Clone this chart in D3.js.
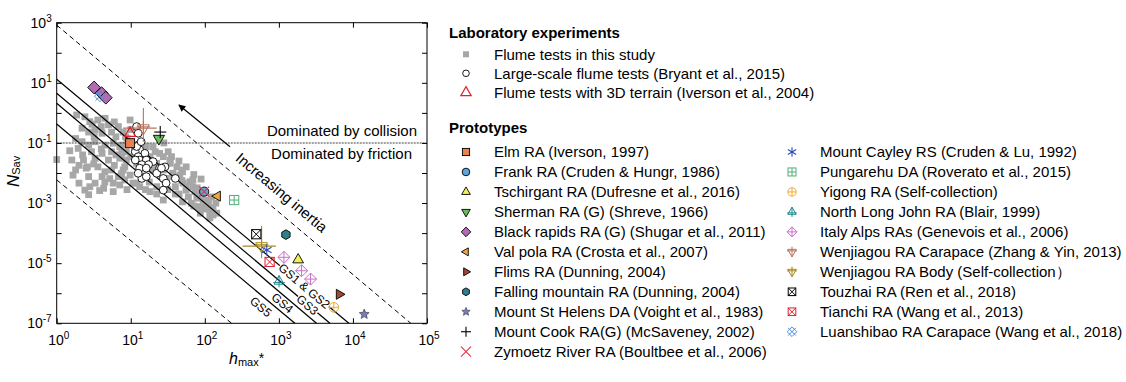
<!DOCTYPE html>
<html><head><meta charset="utf-8">
<script src="https://cdn.jsdelivr.net/npm/d3@7/dist/d3.min.js"></script>
<style>
body{margin:0;background:#fff}
svg{display:block;font-family:"Liberation Sans",Arial,Helvetica,sans-serif}
</style>
</head><body>
<svg id="c" width="1126" height="382"></svg>
<script>
// ---------------- DATA ----------------
// Flume tests in this study: [h_max*, N_Sav]
const flumeThisStudy = [
 [1.0,0.028],[1.86,0.85],[2.4,0.74],[2.8,0.51],[3.6,0.58],[4.5,0.66],[5.0,0.40],[2.2,0.31],[2.7,0.23],[3.3,0.27],
 [4.1,0.21],[5.5,0.23],[6.8,0.35],[7.9,0.23],[1.8,0.14],[2.2,0.11],[2.7,0.085],[3.3,0.11],[4.5,0.085],[5.8,0.098],
 [7.6,0.085],[1.95,0.066],[2.95,0.051],[4.1,0.045],[5.5,0.051],[8.7,0.051],[1.6,0.027],[2.3,0.027],[3.3,0.031],[5.0,0.027],
 [7.1,0.031],[1.8,0.0126],[2.5,0.0145],[3.6,0.016],[5.5,0.0126],[8.3,0.016],[1.66,0.0085],[2.7,0.0076],[4.1,0.0076],[6.8,0.0076],
 [2.0,0.0046],[3.3,0.0046],[5.8,0.0046],[8.3,0.0059],[2.4,0.0027],[4.3,0.0031],[2.7,0.0019],[5.8,0.0024],[8.7,0.027],[7.9,0.0126],
 [9.8,0.0085],[10.7,0.0046],[13.2,0.0035],[20,0.074],[24.5,0.045],[32,0.051],[18.2,0.035],[22.4,0.021],[34,0.027],[42,0.016],
 [46,0.0085],[37,0.0076],[51,0.0046],[63,0.0051],[56,0.0027],[74,0.0024],[78,0.00145],[95,0.00126],[105,0.00076],[117,0.00051],
 [129,0.00068],[85,0.00076],[66,0.00098],[27.5,0.00126],[18.2,0.0024],[30,0.0066],[27.5,0.0126],[16.2,0.016],[12,0.021],[7.1,0.074],
 [7.6,0.045],[87,0.00046],[69,0.0035],[49,0.0056],[37,0.0098],[34,0.021],[27.5,0.035],[21.4,0.051],[16.2,0.076],[9.8,0.58],
 [10,0.1],[11.2,0.063],[14.1,0.04],[10,0.035],[14.8,0.0079],[17.8,0.005],[22.4,0.0035],[40,0.0035],[45,0.002],[60,0.0016],
 [50,0.011],[89,0.002],[112,0.001],[79,0.0032],[4.0,0.35],[6.3,0.16],[3.2,0.16],[28,0.1],[49,0.0126],[56,0.0035],
 [69,0.0059],[105,0.00126],[117,0.00068],[145,0.00046],[117,0.00032],[129,0.0004],[12,0.0046],
 [8.9,0.14],[10,0.28],[4.0,0.063],[6.3,0.04],[2.24,0.04],[3.16,0.02],[4.47,0.011],[2.0,0.018],[2.8,0.0035],[4.47,0.005],
 [7.1,0.004],[8.9,0.0028],[20,0.0126],[35.5,0.035],[44.7,0.025],[56,0.016],[71,0.0089],[89,0.0063],[123,0.0016],[141,0.001],
 [100,0.00063],[71,0.0008],[50,0.0011],[40,0.002],[31.6,0.0028],[22.4,0.002],[15.8,0.0028],[8.5,0.16],[6.0,0.5],[3.0,0.42],
 [1.5,0.055],[2.6,0.016],[6.0,0.018],[7.5,0.0095],[5.2,0.0065],[3.8,0.0026]
];
// Large-scale flume tests (Bryant et al., 2015)
const bryant2015 = [
 [12,0.35],[12.6,0.21],[12.6,0.085],[13.2,0.059],[11.5,0.051],[15.5,0.045],[12.6,0.035],[13.2,0.027],[16.2,0.027],[20,0.024],
 [14.1,0.019],[17.4,0.019],[13.2,0.0145],[16.2,0.0145],[24.5,0.0145],[29,0.016],[14.1,0.0066],[16.2,0.0076],[22.4,0.0098],[27.5,0.0066],
 [30,0.0046],[40,0.0066],[27.5,0.0027],[12.6,0.0098],[11.5,0.027],[12,0.076],[13.8,0.11],[26,0.0145]
];
// Flume tests with 3D terrain (Iverson et al., 2004)
const iverson2004 = [[9.8,0.21]];

// Prototypes
const protoLabels = [
 "Elm RA (Iverson, 1997)",
 "Frank RA (Cruden & Hungr, 1986)",
 "Tschirgant RA (Dufresne et al., 2016)",
 "Sherman RA (G) (Shreve, 1966)",
 "Black rapids RA (G) (Shugar et al., 2011)",
 "Val pola RA (Crosta et al., 2007)",
 "Flims RA (Dunning, 2004)",
 "Falling mountain RA (Dunning, 2004)",
 "Mount St Helens DA (Voight et al., 1983)",
 "Mount Cook RA(G) (McSaveney, 2002)",
 "Zymoetz River RA (Boultbee et al., 2006)",
 "Mount Cayley RS (Cruden & Lu, 1992)",
 "Pungarehu DA (Roverato et al., 2015)",
 "Yigong RA (Self-collection)",
 "North Long John RA (Blair, 1999)",
 "Italy Alps RAs (Genevois et al., 2006)",
 "Wenjiagou RA Carapace (Zhang & Yin, 2013)",
 "Wenjiagou RA Body (Self-collection\uFF09",
 "Touzhai RA (Ren et al., 2018)",
 "Tianchi RA (Wang et al., 2013)",
 "Luanshibao RA Carapace (Wang et al., 2018)"
];
const protoValues = [
 [[9.8,0.098]],
 [[98,0.0024]],
 [[1820,1.3e-5]],
 [[24,0.14]],
 [[3.2,7.0],[4.05,4.5],[4.6,3.2]],
 [[148,0.0017]],
 [[6530,9.2e-7]],
 [[1245,8.9e-5]],
 [[14200,2.0e-7]],
 [[25,0.23]],
 [[98,0.0024]],
 [[686,2.75e-5]],
 [[249,1.26e-3]],
 [[5520,3.4e-7]],
 [[1005,2.5e-6]],
 [[1170,1.57e-5],[2025,5.6e-6],[2680,2.96e-6]],
 [[14.8,0.31]],
 [[584,3.7e-5]],
 [[495,9.2e-5]],
 [[750,1.1e-5]],
 [[3.84,3.6]]
];
// error ranges (Wenjiagou carapace & body): [hLow,hHigh,NLow,NHigh]
const wenjiagouCarapaceRange = [7.9,22.4,0.11,1.45];
const wenjiagouBodyRange = [324,910,1.45e-5,1.73e-4];

// guide lines [[h1,N1],[h2,N2]]
const dashedLines = [[[1,832],[60500,1e-7]],[[1,5.9e-3],[230,1e-7]]];
const gsLines = [[[1,13.1],[8810,1e-7]],[[1,4.48],[4890,1e-7]],[[1,2.08],[3220,1e-7]],[[1,0.427],[1644,1e-7]]];
const gsLabels = ["GS1 & GS2","GS3","GS4","GS5"];
const gsLabelPos = [[2198,1.74e-6],[2425,4.1e-7],[1115,4.7e-7],[571,3.55e-7]];
const regimeBoundary = 0.1;
const inertiaArrow = [[219,0.075],[44.7,1.82]];
const inertiaLabelPos = [1087,2.24e-3];

// axis ticks
const xTickExps = [0,1,2,3,4,5];
const yTickExps = [3,2,1,0,-1,-2,-3,-4,-5,-6,-7];
const yLabelExps = [3,1,-1,-3,-5,-7];

// ---------------- STYLES ----------------
const protoStyles = [
 {t:'sq',c:'#E98050'},{t:'circ',c:'#5DA6DE'},{t:'triU',c:'#F2F04F'},{t:'triD',c:'#6CBA5C'},
 {t:'dia',c:'#B36BB4'},{t:'triL',c:'#F2A643'},{t:'triR',c:'#A24535'},{t:'hex',c:'#2F7F8C'},
 {t:'star',c:'#7A7CC0'},{t:'plus',c:'#000000'},{t:'x',c:'#E8323C'},
 {t:'ast',c:'#2B4DB8'},{t:'sqPlus',c:'#4FAE78'},{t:'circPlus',c:'#EFA92A'},{t:'triUPlus',c:'#1F8790'},
 {t:'diaPlus',c:'#C86DC8'},{t:'triDPlus',c:'#B9735D'},{t:'triDPlus',c:'#A48A1E'},{t:'sqX',c:'#000000'},
 {t:'sqX',c:'#E0202E'},{t:'diaX',c:'#4C8FE0'}
];
const plotSize = [4.5,4.6,6.2,6.5,6.4,5.8,5.8,4.8,5.2,6,5,5.5,4.6,4.8,5.8,6,6.8,6.8,4.6,4.6,5.5];
const FS = 15;

// ---------------- DRAW ----------------
const svg = d3.select('#c');
const L=56.7,R=427,T=22.7,B=323.3;
const x = d3.scaleLog().domain([1,1e5]).range([L,R]);
const y = d3.scaleLog().domain([1e-7,1e3]).range([B,T]);

function poly(pts){return 'M'+pts.map(p=>p[0].toFixed(2)+','+p[1].toFixed(2)).join('L')+'Z';}
function tri(Rr,rot){return [ -90,30,150 ].map(a=>{const r=(a+rot)*Math.PI/180;return [Rr*Math.cos(r),Rr*Math.sin(r)];});}
function dia(r){return [[0,-r],[r,0],[0,r],[-r,0]];}
function hex(r){return d3.range(6).map(k=>{const a=(-90+60*k)*Math.PI/180;return [r*Math.cos(a),r*Math.sin(a)];});}
function line(g,x1,y1,x2,y2,c,w){g.append('line').attr('x1',x1).attr('y1',y1).attr('x2',x2).attr('y2',y2).attr('stroke',c).attr('stroke-width',w||1);}
function starPath(r){const p=[];for(let k=0;k<10;k++){const a=(-90+36*k)*Math.PI/180, rr=k%2?r*0.45:r;p.push([rr*Math.cos(a),rr*Math.sin(a)]);}return poly(p);}

function marker(g,t,r,c){
  const sw=0.9;
  switch(t){
    case 'gray': g.append('rect').attr('x',-r).attr('y',-r).attr('width',2*r).attr('height',2*r).attr('fill',c);break;
    case 'sq': g.append('rect').attr('x',-r).attr('y',-r).attr('width',2*r).attr('height',2*r).attr('fill',c).attr('stroke','#000').attr('stroke-width',sw);break;
    case 'circ': g.append('circle').attr('r',r).attr('fill',c).attr('stroke','#000').attr('stroke-width',sw);break;
    case 'circOpen': g.append('circle').attr('r',r).attr('fill','#fff').attr('stroke','#000').attr('stroke-width',sw);break;
    case 'triU': g.append('path').attr('d',poly(tri(r,0))).attr('fill',c).attr('stroke','#000').attr('stroke-width',sw);break;
    case 'triD': g.append('path').attr('d',poly(tri(r,180))).attr('fill',c).attr('stroke','#000').attr('stroke-width',sw);break;
    case 'triL': g.append('path').attr('d',poly(tri(r,-90))).attr('fill',c).attr('stroke','#000').attr('stroke-width',sw);break;
    case 'triR': g.append('path').attr('d',poly(tri(r,90))).attr('fill',c).attr('stroke','#000').attr('stroke-width',sw);break;
    case 'triUOpen': g.append('path').attr('d',poly(tri(r,0))).attr('fill','none').attr('stroke',c).attr('stroke-width',1.2);break;
    case 'dia': g.append('path').attr('d',poly(dia(r))).attr('fill',c).attr('stroke','#000').attr('stroke-width',sw);break;
    case 'hex': g.append('path').attr('d',poly(hex(r))).attr('fill',c).attr('stroke','#000').attr('stroke-width',sw);break;
    case 'star': g.append('path').attr('d',starPath(r)).attr('fill',c).attr('stroke','#333').attr('stroke-width',0.6);break;
    case 'plus': line(g,-r,0,r,0,c,1.1);line(g,0,-r,0,r,c,1.1);break;
    case 'x': line(g,-r,-r,r,r,c,1.1);line(g,-r,r,r,-r,c,1.1);break;
    case 'ast': for(const a of [90,30,150]){const q=a*Math.PI/180;line(g,-r*Math.cos(q),-r*Math.sin(q),r*Math.cos(q),r*Math.sin(q),c,1.1);} break;
    case 'sqPlus': g.append('rect').attr('x',-r).attr('y',-r).attr('width',2*r).attr('height',2*r).attr('fill','none').attr('stroke',c).attr('stroke-width',1);line(g,-r,0,r,0,c,1);line(g,0,-r,0,r,c,1);break;
    case 'circPlus': g.append('circle').attr('r',r).attr('fill','none').attr('stroke',c).attr('stroke-width',1);line(g,-r,0,r,0,c,1);line(g,0,-r,0,r,c,1);break;
    case 'triUPlus': g.append('path').attr('d',poly(tri(r,0))).attr('fill','none').attr('stroke',c).attr('stroke-width',1);line(g,0,-r,0,r*1.05,c,1);line(g,-r,r*0.2,r,r*0.2,c,1);break;
    case 'triDPlus': g.append('path').attr('d',poly(tri(r,180))).attr('fill','none').attr('stroke',c).attr('stroke-width',1);line(g,0,-r*1.05,0,r,c,1);line(g,-r,-r*0.2,r,-r*0.2,c,1);break;
    case 'diaPlus': g.append('path').attr('d',poly(dia(r))).attr('fill','none').attr('stroke',c).attr('stroke-width',1);line(g,-r,0,r,0,c,1);line(g,0,-r,0,r,c,1);break;
    case 'sqX': g.append('rect').attr('x',-r).attr('y',-r).attr('width',2*r).attr('height',2*r).attr('fill','none').attr('stroke',c).attr('stroke-width',1);line(g,-r,-r,r,r,c,1);line(g,-r,r,r,-r,c,1);break;
    case 'diaX': g.append('path').attr('d',poly(dia(r))).attr('fill','none').attr('stroke',c).attr('stroke-width',1);line(g,-r*0.8,-r*0.8,r*0.8,r*0.8,c,1);line(g,-r*0.8,r*0.8,r*0.8,-r*0.8,c,1);break;
  }
}

const plot = svg.append('g');
// gray squares
plot.append('g').selectAll('rect').data(flumeThisStudy).join('rect')
  .attr('x',d=>x(d[0])-3.4).attr('y',d=>y(d[1])-3.4).attr('width',6.8).attr('height',6.8).attr('fill','#A7A7A7');

// guide lines
const lineGen = d3.line().x(d=>x(d[0])).y(d=>y(d[1]));
plot.append('g').selectAll('path').data(dashedLines).join('path').attr('d',lineGen)
  .attr('fill','none').attr('stroke','#000').attr('stroke-width',1).attr('stroke-dasharray','5,3.5');
plot.append('g').selectAll('path').data(gsLines).join('path').attr('d',lineGen)
  .attr('fill','none').attr('stroke','#000').attr('stroke-width',1.2);
// regime boundary
plot.append('line').attr('x1',x(1)).attr('x2',x(1e5)).attr('y1',y(regimeBoundary)).attr('y2',y(regimeBoundary))
  .attr('stroke','#444').attr('stroke-width',1.1).attr('stroke-dasharray','2,1');

// slope angle in pixels
const dl = dashedLines[0];
const ang = Math.atan2(y(dl[1][1])-y(dl[0][1]), x(dl[1][0])-x(dl[0][0]))*180/Math.PI;

// arrow
const defs = svg.append('defs');
defs.append('marker').attr('id','ah').attr('viewBox','0 0 10 10').attr('refX',9).attr('refY',5)
  .attr('markerWidth',9).attr('markerHeight',7).attr('markerUnits','userSpaceOnUse').attr('orient','auto')
  .append('path').attr('d','M0,0L10,5L0,10Z').attr('fill','#000');
plot.append('path').attr('d',lineGen(inertiaArrow)).attr('stroke','#000').attr('stroke-width',1.2).attr('marker-end','url(#ah)');

// text annotations
plot.append('text').attr('transform',`translate(${x(inertiaLabelPos[0])},${y(inertiaLabelPos[1])}) rotate(${ang})`)
  .attr('text-anchor','middle').attr('dy','0.35em').attr('font-size',FS).text('Increasing inertia');
gsLabels.forEach((s,i)=>{
  const g=plot.append('g').attr('transform',`translate(${x(gsLabelPos[i][0])},${y(gsLabelPos[i][1])}) rotate(${ang})`);
  const bg=g.append('rect').attr('fill','#fff');
  const t=g.append('text').attr('text-anchor','middle').attr('dy','0.35em').attr('font-size',12).text(s);
  const bb=t.node().getBBox();
  bg.attr('x',bb.x-0.5).attr('y',bb.y+1.5).attr('width',bb.width+1).attr('height',bb.height-2.5);
});
plot.append('text').attr('x',x(1e5)-10).attr('y',y(regimeBoundary)-6.5).attr('text-anchor','end').attr('font-size',FS).text('Dominated by collision');
plot.append('text').attr('x',x(1e5)-15).attr('y',y(regimeBoundary)+16).attr('text-anchor','end').attr('font-size',FS).text('Dominated by friction');

// Bryant circles
plot.append('g').selectAll('circle').data(bryant2015).join('circle')
  .attr('cx',d=>x(d[0])).attr('cy',d=>y(d[1])).attr('r',3.9).attr('fill','#fff').attr('stroke','#000').attr('stroke-width',0.9);

// error bars for Wenjiagou
[[16,wenjiagouCarapaceRange],[17,wenjiagouBodyRange]].forEach(([i,rg])=>{
  const p=protoValues[i][0], c=protoStyles[i].c;
  plot.append('line').attr('x1',x(rg[0])).attr('x2',x(rg[1])).attr('y1',y(p[1])).attr('y2',y(p[1])).attr('stroke',c).attr('stroke-width',1.1);
  plot.append('line').attr('x1',x(p[0])).attr('x2',x(p[0])).attr('y1',y(rg[2])).attr('y2',y(rg[3])).attr('stroke',c).attr('stroke-width',1.1);
});

// Iverson 2004
iverson2004.forEach(p=>{const g=plot.append('g').attr('transform',`translate(${x(p[0])},${y(p[1])})`);marker(g,'triUOpen',6.2,'#E0202E');});

// prototypes
const order=[4,20,0,3,9,16,1,10,5,12,18,17,11,19,7,15,2,14,6,13,8];
order.forEach(i=>{
  protoValues[i].forEach(p=>{
    const g=plot.append('g').attr('transform',`translate(${x(p[0])},${y(p[1])})`);
    marker(g,protoStyles[i].t,plotSize[i],protoStyles[i].c);
  });
});

// frame and ticks
const ax = svg.append('g');
ax.append('rect').attr('x',L).attr('y',T).attr('width',R-L).attr('height',B-T).attr('fill','none').attr('stroke','#000').attr('stroke-width',1);
const xt = xTickExps.map(e=>Math.pow(10,e)), yt = yTickExps.map(e=>Math.pow(10,e));
ax.append('g').attr('transform',`translate(0,${B})`).call(d3.axisBottom(x).tickValues(xt).tickSize(-5).tickFormat('')).call(g=>g.select('.domain').remove());
ax.append('g').attr('transform',`translate(0,${T})`).call(d3.axisTop(x).tickValues(xt).tickSize(-5).tickFormat('')).call(g=>g.select('.domain').remove());
ax.append('g').attr('transform',`translate(${L},0)`).call(d3.axisLeft(y).tickValues(yt).tickSize(-5).tickFormat('')).call(g=>g.select('.domain').remove());
ax.append('g').attr('transform',`translate(${R},0)`).call(d3.axisRight(y).tickValues(yt).tickSize(-5).tickFormat('')).call(g=>g.select('.domain').remove());
ax.selectAll('.tick line').attr('stroke','#000').attr('stroke-width',1);

xTickExps.forEach(e=>{
  const t=ax.append('text').attr('x',x(Math.pow(10,e))+2).attr('y',B+22).attr('text-anchor','middle').attr('font-size',14);
  t.append('tspan').text('10');
  t.append('tspan').attr('dy',-6).attr('font-size',10).text(String(e));
});
yLabelExps.forEach(e=>{
  const t=ax.append('text').attr('x',L-5).attr('y',y(Math.pow(10,e))+5).attr('text-anchor','end').attr('font-size',14);
  t.append('tspan').text('10');
  t.append('tspan').attr('dy',-6).attr('font-size',10).text(String(e));
});
// axis titles
const xt1=ax.append('text').attr('x',229).attr('y',364).attr('font-size',16);
xt1.append('tspan').attr('font-style','italic').text('h');
xt1.append('tspan').attr('font-size',11).attr('dy',2).text('max');
xt1.append('tspan').attr('font-size',14).attr('dy',-3).text('*');
const yt1=ax.append('text').attr('transform','translate(18.5,187) rotate(-90)').attr('font-size',17);
yt1.append('tspan').attr('font-style','italic').text('N');
yt1.append('tspan').attr('font-size',11).attr('dy',1.5).text('Sav');

// ---------------- LEGEND ----------------
const lg = svg.append('g');
lg.append('text').attr('x',449).attr('y',37.5).attr('font-size',FS).attr('font-weight','bold').text('Laboratory experiments');
const labLabels=["Flume tests in this study","Large-scale flume tests (Bryant et al., 2015)","Flume tests with 3D terrain (Iverson et al., 2004)"];
const labStyles=[{t:'gray',r:3,c:'#A7A7A7'},{t:'circOpen',r:3.3,c:'#000'},{t:'triUOpen',r:6,c:'#E0202E'}];
const labY=[54.3,73.3,92.6];
labLabels.forEach((s,i)=>{
  const g=lg.append('g').attr('transform',`translate(466,${labY[i]})`);
  marker(g,labStyles[i].t,labStyles[i].r,labStyles[i].c);
  lg.append('text').attr('x',494).attr('y',labY[i]+5.3).attr('font-size',FS).text(s);
});
lg.append('text').attr('x',449).attr('y',132.5).attr('font-size',FS).attr('font-weight','bold').text('Prototypes');
const legSize=[3.6,3.8,5,5,4.8,4.6,4.6,3.9,4.4,5,5,4.8,4,4.2,4.8,5,5,5,3.8,3.8,4.8];
protoLabels.forEach((s,i)=>{
  const col=i<11?0:1, row=i<11?i:i-11;
  const sx=col?792:466, tx=col?820:494, yy=152+row*19.97;
  const g=lg.append('g').attr('transform',`translate(${sx},${yy})`);
  marker(g,protoStyles[i].t,legSize[i],protoStyles[i].c);
  lg.append('text').attr('x',tx).attr('y',yy+5.3).attr('font-size',FS).text(s);
});
</script>
</body></html>
